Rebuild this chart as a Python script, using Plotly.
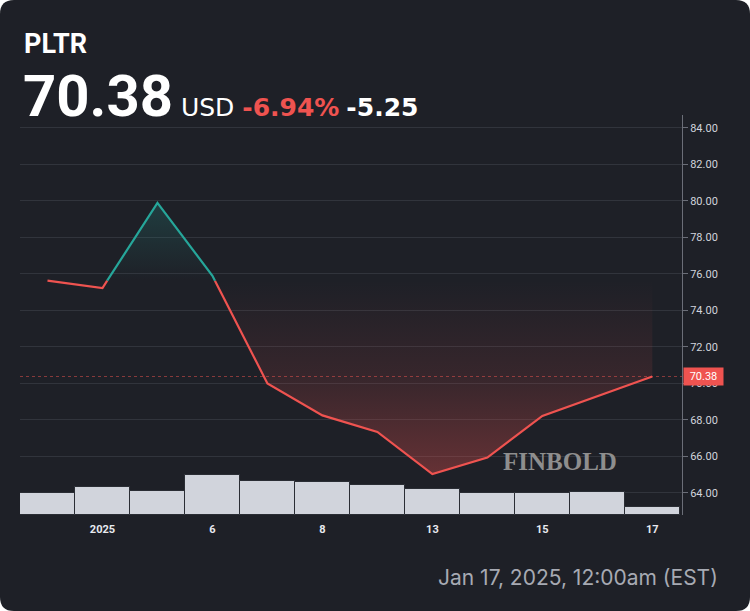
import plotly.graph_objects as go

# ---- data ----
tick_positions = [1, 3, 5, 7, 9, 11]
tick_labels = ["2025", "6", "8", "13", "15", "17"]
close_prices = [75.63, 75.23, 79.89, 75.90, 70.00, 68.25, 67.34, 65.03, 65.94, 68.22, 69.30, 70.38]
volume_m = [66, 84, 72, 120, 102, 99, 90, 78, 66, 66, 69, 24]
y_ticks = [64, 66, 68, 70, 72, 74, 76, 78, 80, 82, 84]
symbol = "PLTR"
last_price = "70.38"
currency = "USD"
change_pct = "-6.94%"
change_abs = "-5.25"
timestamp = "Jan 17, 2025, 12:00am (EST)"

BG = "#1e2027"
RED = "#ef5350"
GREEN = "#26a69a"

n = len(close_prices)
idx = list(range(n))
base = close_prices[0]

# densify with baseline crossings
pts = []
for i in range(n - 1):
    pts.append((i, close_prices[i]))
    a, b = close_prices[i] - base, close_prices[i + 1] - base
    if a * b < 0:
        t = a / (a - b)
        pts.append((i + t, base))
pts.append((n - 1, close_prices[-1]))

px_ = [p[0] for p in pts]
py_ = [p[1] for p in pts]

# split into colored polylines
segs = {"red": ([], []), "green": ([], [])}
prev_col = None
for k in range(len(pts) - 1):
    mid = (py_[k] + py_[k + 1]) / 2
    col = "green" if mid > base else "red"
    xs, ys = segs[col]
    if col != prev_col:
        if xs:
            xs.append(None); ys.append(None)
        xs.append(px_[k]); ys.append(py_[k])
    xs.append(px_[k + 1]); ys.append(py_[k + 1])
    prev_col = col

fig = go.Figure()

# volume bars
fig.add_trace(go.Bar(x=idx, y=volume_m, yaxis="y2", width=1.0,
                     marker=dict(color="#d1d4dc", line=dict(color="#2a2d34", width=1)),
                     hoverinfo="skip", showlegend=False))

# red fill (below baseline)
fig.add_trace(go.Scatter(x=px_, y=[base] * len(px_), mode="lines", line=dict(width=0),
                         hoverinfo="skip", showlegend=False))
fig.add_trace(go.Scatter(x=px_, y=[min(v, base) for v in py_], mode="lines", line=dict(width=0),
                         fill="tonexty",
                         fillgradient=dict(type="vertical", start=min(close_prices), stop=base,
                                           colorscale=[[0, "rgba(239,83,80,0.34)"],
                                                       [0.5, "rgba(239,83,80,0.12)"],
                                                       [1, "rgba(239,83,80,0.0)"]]),
                         hoverinfo="skip", showlegend=False))
# green fill (above baseline)
fig.add_trace(go.Scatter(x=px_, y=[base] * len(px_), mode="lines", line=dict(width=0),
                         hoverinfo="skip", showlegend=False))
fig.add_trace(go.Scatter(x=px_, y=[max(v, base) for v in py_], mode="lines", line=dict(width=0),
                         fill="tonexty",
                         fillgradient=dict(type="vertical", start=base, stop=max(close_prices),
                                           colorscale=[[0, "rgba(38,166,154,0.0)"],
                                                       [1, "rgba(38,166,154,0.22)"]]),
                         hoverinfo="skip", showlegend=False))

fig.add_trace(go.Scatter(x=segs["red"][0], y=segs["red"][1], mode="lines",
                         line=dict(color=RED, width=2.2), showlegend=False))
fig.add_trace(go.Scatter(x=segs["green"][0], y=segs["green"][1], mode="lines",
                         line=dict(color=GREEN, width=2.2), showlegend=False))

L, R, T, B = 20, 68, 115, 96
W, H = 750 - L - R, 611 - T - B


def fx(px):
    return (px - L) / W


def fy(py):
    return (611 - B - py) / H


fig.update_layout(
    width=750, height=611,
    margin=dict(l=L, r=R, t=T, b=B, pad=0),
    paper_bgcolor="#ffffff", plot_bgcolor="rgba(0,0,0,0)",
    showlegend=False,
    bargap=0,
    xaxis=dict(range=[-0.5, n - 0.5 + 0.04], tickmode="array", tickvals=tick_positions,
               ticktext=tick_labels, showgrid=False, zeroline=False, showline=False,
               tickfont=dict(family="Roboto", size=11, color="#e8eaf0", weight="bold"),
               ticks="outside", ticklen=4, tickcolor="rgba(0,0,0,0)", fixedrange=True),
    yaxis=dict(range=[62.79, 84.71], side="right", tickmode="array", tickvals=y_ticks,
               ticktext=[f"{v:.2f}" for v in y_ticks],
               showgrid=True, gridcolor="#31343c", gridwidth=1, zeroline=False,
               showline=True, linecolor="#6b6e78", linewidth=1,
               ticks="outside", ticklen=5, tickcolor="#6b6e78",
               tickfont=dict(family="Roboto", size=11, color="#d1d4dc")),
    yaxis2=dict(range=[0, 1200], overlaying="y", side="left", visible=False, showgrid=False),
)

# rounded dark card
r = 14
x0, x1, y0, y1 = fx(0), fx(750), fy(611), fy(0)
rx, ry = r / W, r / H
card = (f"M {x0+rx} {y1} L {x1-rx} {y1} Q {x1} {y1} {x1} {y1-ry} "
        f"L {x1} {y0+ry} Q {x1} {y0} {x1-rx} {y0} L {x0+rx} {y0} Q {x0} {y0} {x0} {y0+ry} "
        f"L {x0} {y1-ry} Q {x0} {y1} {x0+rx} {y1} Z")
fig.add_shape(type="path", xref="paper", yref="paper", path=card, fillcolor=BG,
              line=dict(width=0), layer="below")

# price line
fig.add_shape(type="line", xref="paper", x0=0, x1=1, yref="y", y0=close_prices[-1], y1=close_prices[-1],
              line=dict(color="rgba(239,83,80,0.5)", width=1, dash="dot"))

annotations = [
    dict(x=fx(22), y=fy(44), xref="paper", yref="paper", xanchor="left", yanchor="middle",
         text=f"<b>{symbol}</b>", showarrow=False,
         font=dict(family="Roboto", size=27, color="#ffffff")),
    dict(x=fx(21), y=fy(118), xref="paper", yref="paper", xanchor="left", yanchor="bottom",
         yshift=-14,
         text=(f'<span style="font-family:Roboto;font-size:58px;font-weight:bold">{last_price}</span>'
               f'<span style="font-family:DejaVu Sans;font-size:25px"> {currency} </span>'
               f'<span style="font-family:DejaVu Sans;font-size:25px;font-weight:bold;color:{RED}">{change_pct}</span>'
               f'<span style="font-family:DejaVu Sans;font-size:22px"> </span>'
               f'<span style="font-family:DejaVu Sans;font-size:25px;font-weight:bold">{change_abs}</span>'),
         showarrow=False, font=dict(family="Roboto", size=25, color="#ffffff")),
    dict(x=fx(720), y=fy(577), xref="paper", yref="paper", xanchor="right", yanchor="middle",
         text=timestamp, showarrow=False, font=dict(family="Inter", size=21, color="#a7aab3")),
    dict(x=fx(560), y=fy(461), xref="paper", yref="paper", xanchor="center", yanchor="middle",
         text="<b>FINBOLD</b>", showarrow=False,
         font=dict(family="Liberation Serif", size=25, color="#8e8e8e")),
    dict(x=1, y=close_prices[-1], xref="paper", yref="y", xanchor="left", yanchor="middle",
         xshift=1, text=last_price, showarrow=False, bgcolor=RED, borderpad=2, width=35, height=13,
         font=dict(family="Roboto", size=11, color="#ffffff")),
]
fig.update_layout(annotations=annotations)

fig.write_html("out.html", config={"displayModeBar": False},
               post_script="document.body.style.margin='0';")
